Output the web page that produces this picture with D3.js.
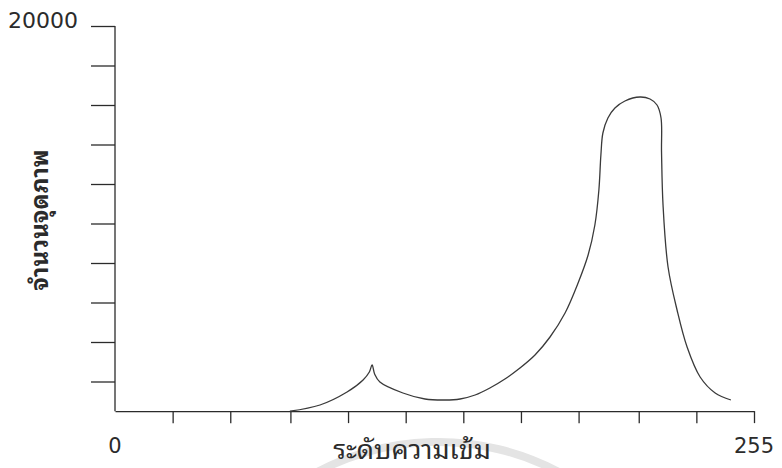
<!DOCTYPE html>
<html>
<head>
<meta charset="utf-8">
<script src="https://cdn.jsdelivr.net/npm/d3@7"></script>
<style>
  body { margin: 0; background: #fff; }
  svg { display: block; }
</style>
</head>
<body>
<div class="canvas"></div>
<script>
// histogram shape (intensity level -> pixel count)
const levels = [69.8, 81.8, 92.6, 99.0, 101.5, 102.6, 103.6, 105.7, 114.9, 123.7, 131.7, 137.7, 143.7, 149.6,
  155.6, 161.6, 167.6, 173.6, 179.6, 184.8, 188.8, 191.5, 193.1, 193.9, 194.7, 196.7, 199.5, 203.5,
  209.5, 213.5, 216.3, 217.9, 218.1, 218.7, 220.7, 224.3, 228.3, 233.5, 239.5, 245.8];
const counts = [500, 810, 1468, 2076, 2480, 2835, 2380, 1975, 1418, 1114, 1063, 1114, 1316, 1671,
  2126, 2683, 3342, 4253, 5468, 6987, 8405, 9924, 11696, 13468, 14582, 15342, 15848, 16202,
  16404, 16303, 16000, 15342, 13620, 10936, 7797, 5620, 3747, 2228, 1418, 1063];

const yTicks = [2000, 4000, 6000, 8000, 10000, 12000, 14000, 16000, 18000, 20000];
const xTicks = [23, 46, 70, 93, 116, 139, 162, 185, 209, 232, 255];
const xLabels = ['0', '255'];
const yTopLabel = '20000';
const floorValue = 500;   // the plot's baseline sits a little above zero

const xTitle = 'ระดับความเข้ม';
const yTitle = 'จำนวนจุดภาพ';

const dims = {width: 782, height: 468};

const svg = d3.select('.canvas')
    .append('svg')
    .attr('width', dims.width)
    .attr('height', dims.height);

const x = d3.scaleLinear().domain([0, 255]).range([115, 754]);
const y = d3.scaleLinear().domain([0, 20000]).range([421, 26]);

const ink = '#2b2b2b';

// faint watermark ring behind the bottom title
svg.append('path')
    .attr('transform', 'translate(438,700)')
    .attr('d', d3.arc().innerRadius(254).outerRadius(262).startAngle(-0.55).endAngle(0.5)())
    .attr('fill', '#e4e4e4');

// y axis: ticks on the left, no labels except the top one
const yAxis = d3.axisLeft(y)
    .tickValues(yTicks)
    .tickSize(24)
    .tickFormat('');

svg.append('g')
    .attr('transform', `translate(${x(0)},0)`)
    .call(yAxis)
    .call(g => g.select('.domain').remove())
    .call(g => g.selectAll('line').attr('stroke', ink).attr('stroke-width', 1.3));

svg.append('line')
    .attr('x1', x(0)).attr('x2', x(0))
    .attr('y1', y(20000)).attr('y2', y(floorValue))
    .attr('stroke', ink)
    .attr('stroke-width', 1.3);

// x axis along the baseline
const xAxis = d3.axisBottom(x)
    .tickValues(xTicks)
    .tickSize(12)
    .tickSizeOuter(0)
    .tickFormat('');

svg.append('g')
    .attr('transform', `translate(0,${y(floorValue)})`)
    .call(xAxis)
    .call(g => g.select('.domain').attr('stroke', ink).attr('stroke-width', 1.3))
    .call(g => g.selectAll('line').attr('stroke', ink).attr('stroke-width', 1.3));

// curve
const line = d3.line()
    .x(d => x(d[0]))
    .y(d => y(d[1]))
    .curve(d3.curveCatmullRom.alpha(0.5));

svg.append('path')
    .datum(levels.map((l, i) => [l, counts[i]]))
    .attr('d', line)
    .attr('fill', 'none')
    .attr('stroke', '#3a3a3a')
    .attr('stroke-width', 1.3);

// labels
const numFont = '"DejaVu Sans", Verdana, sans-serif';
const thaiFont = '"Noto Sans Thai Looped", Loma, Garuda, Tahoma, "Noto Sans Thai", "Noto Sans", sans-serif';

svg.append('text')
    .attr('x', 78).attr('y', 28)
    .attr('text-anchor', 'end')
    .attr('font-family', numFont)
    .attr('font-size', 22)
    .attr('fill', ink)
    .text(yTopLabel);

svg.selectAll('.xlab')
    .data(xLabels)
    .enter()
    .append('text')
    .attr('class', 'xlab')
    .attr('x', d => x(+d))
    .attr('y', 453)
    .attr('text-anchor', 'middle')
    .attr('font-family', numFont)
    .attr('font-size', 21)
    .attr('fill', ink)
    .text(d => d);

svg.append('text')
    .attr('x', 412).attr('y', 459)
    .attr('text-anchor', 'middle')
    .attr('font-family', thaiFont)
    .attr('font-weight', 'normal')
    .attr('font-size', 27)
    .attr('fill', ink)
    .text(xTitle);

svg.append('text')
    .attr('transform', 'translate(48,220) rotate(-90)')
    .attr('text-anchor', 'middle')
    .attr('font-family', thaiFont)
    .attr('font-weight', 700)
    .attr('font-size', 24)
    .attr('fill', ink)
    .text(yTitle);
</script>
</body>
</html>
